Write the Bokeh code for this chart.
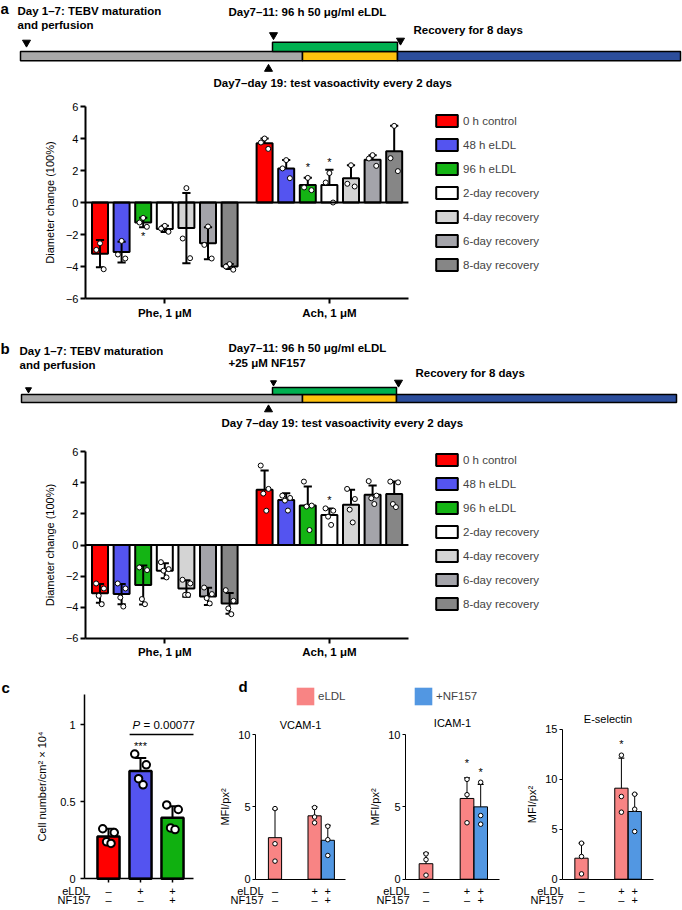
from bokeh.plotting import figure
from bokeh.models import Range1d, Legend, LegendItem, FixedTicker, LinearAxis
from bokeh.layouts import column, row
from bokeh.embed import file_html
from bokeh.resources import INLINE
from bokeh.core.properties import value

FONT = "Liberation Sans"

# ---------------- data ----------------
conditions = ["0 h control", "48 h eLDL", "96 h eLDL", "2-day recovery",
              "4-day recovery", "6-day recovery", "8-day recovery"]
treatments = ["Phe, 1 μM", "Ach, 1 μM"]

# panel a (3 vessels)
a_phe_mean = [-3.2, -3.1, -1.25, -1.65, -1.6, -2.55, -4.0]
a_phe_sd = [0.85, 0.65, 0.3, 0.2, 2.2, 1.0, 0.15]
a_phe_pts = [[-2.55, -2.96, -4.17], [-2.4, -3.25, -3.5], [-0.96, -1.25, -1.52],
             [-1.46, -1.63, -1.83], [0.9, -2.25, -3.48], [-1.5, -2.65, -3.5],
             [-3.85, -4.0, -4.2]]
a_ach_mean = [3.7, 2.13, 1.09, 1.09, 1.52, 2.67, 3.2]
a_ach_sd = [0.3, 0.52, 0.45, 0.96, 0.81, 0.29, 1.59]
a_ach_pts = [[4.0, 3.75, 3.35], [2.65, 2.13, 1.52], [1.54, 0.94, 0.77],
             [1.84, 1.25, 0.0], [2.33, 1.17, 1.0], [2.96, 2.75, 2.29],
             [4.79, 2.77, 1.96]]
a_star_treat = [0, 1, 1]
a_star_cond = [2, 2, 3]
a_star_y = [-2.1, 2.22, 2.55]

# panel b (4 vessels)
b_phe_mean = [-3.1, -3.15, -2.57, -1.65, -2.79, -3.3, -3.75]
b_phe_sd = [0.6, 0.65, 1.25, 0.48, 0.53, 0.55, 0.67]
b_phe_pts = [[-2.47, -2.79, -3.26, -3.8], [-2.47, -2.79, -3.37, -3.95],
             [-1.44, -1.61, -3.47, -3.8], [-1.1, -1.55, -1.65, -2.08],
             [-2.23, -2.47, -3.2, -3.2], [-2.73, -3.15, -3.41, -3.75],
             [-2.9, -3.58, -4.07, -4.44]]
b_ach_mean = [3.54, 2.89, 2.53, 1.93, 2.58, 3.22, 3.28]
b_ach_sd = [1.24, 0.43, 1.22, 0.42, 0.96, 0.6, 0.79]
b_ach_pts = [[5.1, 3.6, 3.3, 2.2], [3.17, 3.02, 2.85, 2.21], [4.07, 2.53, 2.47, 0.96],
             [2.35, 2.2, 1.82, 1.29], [3.6, 2.95, 2.27, 1.45], [4.1, 3.17, 3.0, 2.63],
             [4.07, 4.02, 2.63, 2.43]]
b_star_treat = [1]
b_star_cond = [3]
b_star_y = [2.91]

# panel c
c_eldl = ["–", "+", "+"]
c_nf157 = ["–", "–", "+"]
c_mean = [0.275, 0.70, 0.396]
c_sd = [0.05, 0.085, 0.075]
c_pts = [[0.325, 0.30, 0.24, 0.23], [0.81, 0.74, 0.65, 0.61], [0.48, 0.45, 0.33, 0.32]]
c_pvalue = "= 0.00077"
c_yticks = [0, 0.5, 1]

# panel d
d_titles = ["VCAM-1", "ICAM-1", "E-selectin"]
d_eldl = ["–", "+", "+"]
d_nf157 = ["–", "–", "+"]
d_mean = [[2.87, 4.38, 2.69], [1.07, 5.58, 5.0], [2.1, 9.1, 6.77]]
d_sd = [[1.98, 0.62, 1.04], [0.73, 1.42, 1.55], [1.5, 3.0, 1.73]]
d_pts = [[[4.88, 2.45, 1.25], [4.95, 4.3, 3.9], [3.66, 2.73, 1.64]],
         [[1.75, 1.35, 0.28], [6.9, 5.84, 3.9], [6.7, 4.4, 3.8]],
         [[3.6, 2.27, 0.53], [12.4, 8.27, 6.7], [8.5, 7.0, 4.77]]]
d_star_bar = [[], [1, 2], [1]]
d_star_y = [[], [8.0, 7.4], [13.5]]
d_ymax = [10, 10, 15]
d_legend_labels = ["eLDL", "+NF157"]

# ---------------- styles ----------------
BAR_COLORS = ["#FF0000", "#5454F0", "#14B414", "#FFFFFF", "#D4D4D4", "#A4A4AA", "#868686"]
C_COLORS = ["#FF0000", "#5454F0", "#10B010"]
PINK = "#F88484"
BLUE = "#5297E2"
D_COLORS = [PINK, PINK, BLUE]
GROUP_START = [0.0, 7.62]
JIT3 = [0.0, -0.17, 0.17]
JIT4 = [-0.18, 0.18, -0.06, 0.08]
PAGE_W = 682


def clean(p):
    p.grid.visible = False
    p.outline_line_color = None
    p.background_fill_color = "white"
    p.border_fill_color = "white"


def make_fig(left, top, w, h, x0, xu, y0, yu):
    """Figure whose frame fills the canvas; (x0, y0) = page pixel of the data origin."""
    xs = (left - x0) / xu
    yt = (y0 - top) / yu
    p = figure(width=w, height=h, output_backend="svg", toolbar_location=None,
               x_range=Range1d(xs, xs + w / xu), y_range=Range1d(yt - h / yu, yt),
               x_axis_type=None, y_axis_type=None, min_border=0)
    clean(p)
    return p, (lambda px: (px - x0) / xu), (lambda py: (y0 - py) / yu)


def style_axis(ax, lw, tick_len, fs="11px"):
    ax.axis_line_width = lw
    ax.axis_line_color = "black"
    ax.major_tick_line_width = lw
    ax.major_tick_line_color = "black"
    ax.major_tick_out = tick_len
    ax.major_tick_in = 0
    ax.minor_tick_line_color = None
    ax.major_label_text_font = FONT
    ax.major_label_text_font_size = fs
    ax.major_label_text_color = "black"
    ax.axis_label_text_font = FONT
    ax.axis_label_text_font_style = "normal"
    ax.axis_label_text_color = "black"


def txt(p, x, y, t, size="11px", style="normal", align="left", baseline="middle", x_offset=0):
    p.text(x=[x], y=[y], text=[t], x_offset=x_offset, text_font=value(FONT), text_font_size=size,
           text_font_style=style, text_align=align, text_baseline=baseline, text_color="black")


def timeline(top, height, letter, texts, bar_x, bar_y, green_y, tri_down, tri_up):
    p, fx, fy = make_fig(0, top, PAGE_W, height, 0, 1, 0, -1)
    txt(p, 0, letter[1], letter[0], size="15px", style="bold")
    for t, x, y in texts:
        txt(p, x, y, t, size="11.5px", style="bold")
    p.quad(left=bar_x[:3], right=bar_x[1:],
           top=[bar_y[0]] * 3, bottom=[bar_y[1]] * 3,
           fill_color=["#A8A8A8", "#FFC20E", "#2C4E9C"], line_color="black", line_width=1.5)
    p.quad(left=[272], right=[bar_x[2]], top=[green_y[0]], bottom=[green_y[1]],
           fill_color="#00B050", line_color="black", line_width=1.5)
    for x, y, s in tri_down:
        p.scatter(x=[x], y=[y], marker="inverted_triangle", size=s, fill_color="black", line_color="black")
    for x, y, s in tri_up:
        p.scatter(x=[x], y=[y], marker="triangle", size=s, fill_color="black", line_color="black")
    return p


def vaso_chart(top, height, y0, yu, legend_vy, phe_mean, phe_sd, phe_pts,
               ach_mean, ach_sd, ach_pts, star_t, star_c, star_y):
    p, fx, fy = make_fig(0, top, PAGE_W, height, 99.5, 21.6, y0, yu)
    xlo, xhi = -0.674, 14.28
    means = [phe_mean, ach_mean]
    sds = [phe_sd, ach_sd]
    pts = [phe_pts, ach_pts]
    rends = []
    for i in range(len(conditions)):
        xs = [GROUP_START[g] + i for g in range(2)]
        r = p.vbar(x=xs, top=[means[g][i] for g in range(2)], bottom=0, width=0.74,
                   fill_color=BAR_COLORS[i], line_color="black", line_width=2)
        rends.append(r)
    for g in range(2):
        xs = [GROUP_START[g] + i for i in range(len(conditions))]
        hi = [m + s for m, s in zip(means[g], sds[g])]
        lo = [m - s for m, s in zip(means[g], sds[g])] if g == 0 else list(means[g])
        p.segment(x0=xs, y0=lo, x1=xs, y1=hi, line_color="black", line_width=2)
        p.segment(x0=[x - 0.19 for x in xs], y0=hi, x1=[x + 0.19 for x in xs], y1=hi,
                  line_color="black", line_width=2)
        if g == 0:
            p.segment(x0=[x - 0.19 for x in xs], y0=lo, x1=[x + 0.19 for x in xs], y1=lo,
                      line_color="black", line_width=2)
    for g in range(2):
        for i in range(len(conditions)):
            vals = pts[g][i]
            jit = JIT3 if len(vals) == 3 else JIT4
            p.scatter(x=[GROUP_START[g] + i + jit[k] for k in range(len(vals))], y=vals,
                      marker="circle", size=5, fill_color="white", line_color="black", line_width=1)
    # zero line across the plotting area
    p.segment(x0=[xlo], y0=[0], x1=[xhi], y1=[0], line_color="black", line_width=2)
    p.text(x=[GROUP_START[t] + c for t, c in zip(star_t, star_c)], y=star_y,
           text=["*"] * len(star_y), text_font=value(FONT), text_font_size="11px",
           text_align="center", text_baseline="middle", text_color="black")
    yax = LinearAxis(fixed_location=xlo, bounds=(-6, 6),
                     ticker=FixedTicker(ticks=[-6, -4, -2, 0, 2, 4, 6]))
    style_axis(yax, 2, 5)
    yax.major_label_overrides = {-6: "−6", -4: "−4", -2: "−2"}
    yax.major_label_standoff = 2
    yax.axis_label = "Diameter change (100%)"
    yax.axis_label_text_font_size = "11px"
    yax.axis_label_standoff = 7
    p.add_layout(yax, "left")
    centers = [GROUP_START[g] + 3 for g in range(2)]
    xax = LinearAxis(fixed_location=-6, bounds=(xlo, xhi), ticker=FixedTicker(ticks=centers))
    style_axis(xax, 2, 5, fs="11.5px")
    xax.major_label_overrides = {c: t for c, t in zip(centers, treatments)}
    xax.major_label_text_font_style = "bold"
    xax.major_label_standoff = 3
    p.add_layout(xax, "below")
    legend = Legend(items=[LegendItem(label=c, renderers=[r]) for c, r in zip(conditions, rends)],
                    location=(433, legend_vy), orientation="vertical", margin=0, padding=0,
                    spacing=9, glyph_width=27, glyph_height=15, label_height=15,
                    label_standoff=3, label_text_font=FONT, label_text_font_size="11.5px",
                    border_line_color=None, background_fill_alpha=0)
    p.add_layout(legend)
    return p


def sign_axes(p, xs, row1, row2, loc, s1, s2):
    for labels, s in ((row1, s1), (row2, s2)):
        a = LinearAxis(fixed_location=loc, ticker=FixedTicker(ticks=xs))
        style_axis(a, 1, 0)
        a.axis_line_color = None
        a.major_tick_line_color = None
        a.major_label_overrides = {x: t for x, t in zip(xs, labels)}
        a.major_label_standoff = s
        p.add_layout(a, "below")


# ---------------- panel a / b ----------------
ta = timeline(0, 95, ("a", 8),
              [("Day 1–7: TEBV maturation", 17, 10.5), ("and perfusion", 17, 24.5),
               ("Day7–11: 96 h 50 μg/ml eLDL", 228, 11),
               ("Recovery for 8 days", 413, 29),
               ("Day7–day 19: test vasoactivity every 2 days", 213, 82.5)],
              [20, 302, 397, 680], (51, 60.3), (41.7, 51),
              [(26, 42, 8), (273, 34.5, 8), (400, 40, 8)], [(268, 68.5, 8)])
pa = vaso_chart(95, 241, 202, 16, 64, a_phe_mean, a_phe_sd, a_phe_pts,
                a_ach_mean, a_ach_sd, a_ach_pts, a_star_treat, a_star_cond, a_star_y)
tb = timeline(336, 104, ("b", 348),
              [("Day 1–7: TEBV maturation", 19, 350), ("and perfusion", 19, 364),
               ("Day7–11: 96 h 50 μg/ml eLDL", 228, 347), ("+25 μM NF157", 228, 362),
               ("Recovery for 8 days", 415, 372),
               ("Day 7–day 19: test vasoactivity every 2 days", 221, 422)],
              [21, 302, 396, 676], (394, 402), (387, 394),
              [(28, 389, 6), (273, 382, 6), (398, 382, 8)], [(268, 409, 8)])
pb = vaso_chart(440, 228, 544.5, 15.58, 57, b_phe_mean, b_phe_sd, b_phe_pts,
                b_ach_mean, b_ach_sd, b_ach_pts, b_star_treat, b_star_cond, b_star_y)

# ---------------- panel c ----------------
ROW4_TOP, ROW4_H = 668, 240
ROW_Y = (890, 899.5)
pc, cfx, cfy = make_fig(0, ROW4_TOP, 215, ROW4_H, 108, 32, 878.3, 154)
cx = list(range(len(c_mean)))
cxlo, cxhi = cfx(84), cfx(193)
pc.vbar(x=cx, top=c_mean, bottom=0, width=0.69, fill_color=C_COLORS, line_color="black", line_width=2.5)
c_hi = [m + s for m, s in zip(c_mean, c_sd)]
pc.segment(x0=cx, y0=c_mean, x1=cx, y1=c_hi, line_color="black", line_width=2)
pc.segment(x0=[x - 0.18 for x in cx], y0=c_hi, x1=[x + 0.18 for x in cx], y1=c_hi,
           line_color="black", line_width=2)
for i, vals in enumerate(c_pts):
    pc.scatter(x=[i + JIT4[k] for k in range(len(vals))], y=vals, marker="circle", size=7.5,
               fill_color="white", line_color="black", line_width=2)
txt(pc, 1, 0.86, "***", align="center")
pc.segment(x0=[0.66], y0=[0.937], x1=[cxhi], y1=[0.937], line_color="black", line_width=1.5)
txt(pc, 0.75, 1.0, "P", size="11.5px", style="italic")
txt(pc, 0.75, 1.0, c_pvalue, size="11.5px", x_offset=11)
cy = LinearAxis(fixed_location=cxlo, bounds=(0, 1.2), ticker=FixedTicker(ticks=c_yticks))
style_axis(cy, 1.5, 4)
cy.major_label_standoff = 5
cy.axis_label = "Cell number/cm² × 10⁴"
cy.axis_label_text_font_size = "11px"
cy.axis_label_standoff = 9
pc.add_layout(cy, "left")
cxa = LinearAxis(fixed_location=0, bounds=(cxlo, cxhi), ticker=FixedTicker(ticks=cx))
style_axis(cxa, 1.5, 4)
cxa.major_label_text_color = None
pc.add_layout(cxa, "below")
sign_axes(pc, cx, c_eldl, c_nf157, 0, 6, 15)
txt(pc, cfx(88), cfy(ROW_Y[0]), "eLDL", align="right")
txt(pc, cfx(90), cfy(ROW_Y[1]), "NF157", align="right")
txt(pc, cfx(1), cfy(687), "c", size="15px", style="bold")

# ---------------- panel d ----------------
d_geom = [(215, 150, 274.5, 13.2, 14.47, 255, 345, 724, 263),
          (365, 151, 425.5, 13.67, 14.47, 405, 499, 722, 409),
          (516, 166, 581, 13.3, 10.0, 562, 653, 718, 563)]
dx = [0, 3, 4]
dfigs = []
dfills = []
for k in range(3):
    left, w, x0, xu, yu, ax_l, ax_r, title_y, lab_r = d_geom[k]
    p, fx, fy = make_fig(left, ROW4_TOP, w, ROW4_H, x0, xu, 878.7, yu)
    xlo, xhi = fx(ax_l), fx(ax_r)
    fills = p.vbar(x=dx, top=d_mean[k], bottom=0, width=1.0, fill_color=D_COLORS, line_color=None)
    p.vbar(x=dx, top=d_mean[k], bottom=0, width=1.0, fill_color=None, line_color="black", line_width=1)
    dfills.append(fills)
    hi = [m + s for m, s in zip(d_mean[k], d_sd[k])]
    p.segment(x0=dx, y0=d_mean[k], x1=dx, y1=hi, line_color="black", line_width=1)
    p.segment(x0=[x - 0.22 for x in dx], y0=hi, x1=[x + 0.22 for x in dx], y1=hi,
              line_color="black", line_width=1.2)
    for i, vals in enumerate(d_pts[k]):
        p.scatter(x=[dx[i]] * len(vals), y=vals, marker="circle", size=4.5,
                  fill_color="white", line_color="black", line_width=1)
    if d_star_bar[k]:
        p.text(x=[dx[b] for b in d_star_bar[k]], y=d_star_y[k], text=["*"] * len(d_star_y[k]),
               text_font=value(FONT), text_font_size="11px", text_align="center",
               text_baseline="middle", text_color="black")
    ya = LinearAxis(fixed_location=xlo, bounds=(0, d_ymax[k]),
                    ticker=FixedTicker(ticks=list(range(0, d_ymax[k] + 1, 5))))
    style_axis(ya, 1, 3)
    ya.major_label_standoff = 2
    ya.axis_label = "MFI/px²"
    ya.axis_label_text_font_size = "11px"
    ya.axis_label_standoff = 4
    p.add_layout(ya, "left")
    xa = LinearAxis(fixed_location=0, bounds=(xlo, xhi), ticker=FixedTicker(ticks=dx))
    style_axis(xa, 1, 0)
    xa.major_tick_line_color = None
    xa.major_label_text_color = None
    p.add_layout(xa, "below")
    sign_axes(p, dx, d_eldl, d_nf157, 0, 6, 15)
    txt(p, fx(lab_r), fy(ROW_Y[0]), "eLDL", align="right")
    txt(p, fx(lab_r), fy(ROW_Y[1]), "NF157", align="right")
    txt(p, (xlo + xhi) / 2, fy(title_y), d_titles[k], align="center")
    dfigs.append(p)

# panel d letter and legend (swatches taken from the pink and blue bar fills)
txt(dfigs[0], (238 - 274.5) / 13.2, (878.7 - 686) / 14.47, "d", size="15px", style="bold")
for k, (lab, idx, vx) in enumerate(zip(d_legend_labels, [0, 2], [79, 47])):
    dfigs[k].add_layout(Legend(items=[LegendItem(label=lab, renderers=[dfills[k]], index=idx)],
                               location=(vx, 201), orientation="horizontal", margin=0, padding=0,
                               glyph_width=22, glyph_height=22, label_height=22, label_standoff=2,
                               label_text_font=FONT, label_text_font_size="11.5px",
                               border_line_color=None, background_fill_alpha=0))

layout = column(ta, pa, tb, pb, row(pc, *dfigs))
open("out.html", "w").write(file_html(layout, INLINE))
